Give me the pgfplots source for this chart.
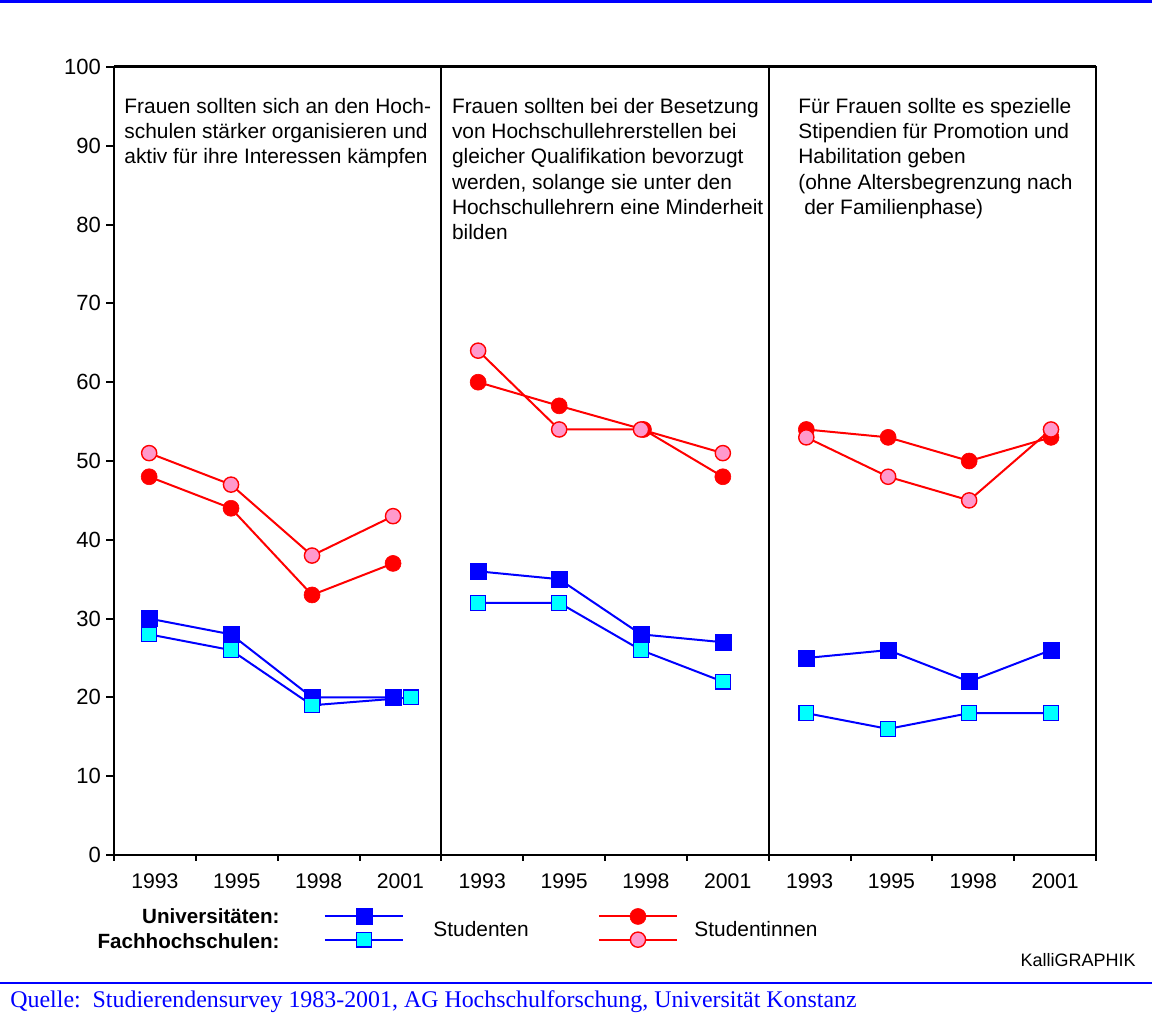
\documentclass[border=0pt]{standalone}
\usepackage{fontspec}
\setmainfont{Liberation Sans}
\newfontfamily\serif{Liberation Serif}
\usepackage{pgfplots}
\pgfplotsset{compat=1.18}

\definecolor{uniblue}{RGB}{0,0,255}
\definecolor{fhcyan}{RGB}{0,255,255}
\definecolor{unired}{RGB}{255,0,0}
\definecolor{fhpink}{RGB}{255,153,204}

\newcommand{\lab}{\fontsize{10.45}{12.6}\selectfont}

\begin{document}
\begin{tikzpicture}
\useasboundingbox (-57pt,-83pt) rectangle (519pt,427.5pt);
\begin{axis}[
    at={(0pt,0pt)}, anchor=south west,
    scale only axis,
    width=491pt, height=394pt,
    xmin=0, xmax=12, ymin=0, ymax=100,
    clip=false,
    axis line style={line width=1pt},
    tick align=outside,
    tick style={black, line width=1pt},
    ytick={0,10,...,100},
    major tick length=4pt,
    xtick={0.5,1.5,...,11.5},
    xticklabels={1993,1995,1998,2001,1993,1995,1998,2001,1993,1995,1998,2001},
    major x tick style={draw=none},
    minor xtick={0,1,...,12},
    minor tick length=3pt,
    xtick pos=bottom, ytick pos=left,
    /pgf/number format/assume math mode=true,
    yticklabel style={font=\fontsize{11}{13}\selectfont, xshift=1pt},
    xticklabel style={font=\fontsize{10.6}{12}\selectfont, yshift=-1.8pt},
    unbounded coords=jump,
    legend columns=2,
    legend style={draw=none, fill=none, inner sep=0pt, outer sep=0pt,
        at={(0.3951,-0.0925)}, anchor=center,
        row sep=3.8pt,
        nodes={inner sep=0pt, outer sep=0pt},
        /tikz/every odd column/.append style={column sep=0pt},
        /tikz/every even column/.append style={column sep=96pt}},
    legend image code/.code={
        \draw[mark repeat=2, mark phase=2, #1]
            plot coordinates {(-19.5pt,0pt) (0pt,0pt) (19.5pt,0pt)};},
]
% Universitaeten, Studenten
\addplot[uniblue, line width=1pt, mark=square*, mark size=4pt,
    mark options={fill=uniblue, draw=uniblue, line width=0.3pt}, forget plot]
    coordinates {(0.43,30) (1.43,28) (2.42,20) (3.41,20) (4,nan)
                 (4.45,36) (5.44,35) (6.44,28) (7.44,27) (8,nan)
                 (8.46,25) (9.46,26) (10.45,22) (11.45,26)};
% Fachhochschulen, Studenten
\addplot[uniblue, line width=1pt, mark=square*, mark size=3.7pt,
    mark options={fill=fhcyan, draw=uniblue, line width=0.7pt}, forget plot]
    coordinates {(0.43,28) (1.43,26) (2.42,19) (3.63,20) (4,nan)
                 (4.45,32) (5.44,32) (6.44,26) (7.44,22) (8,nan)
                 (8.46,18) (9.46,16) (10.45,18) (11.45,18)};
% Universitaeten, Studentinnen
\addplot[unired, line width=1pt, mark=*, mark size=4pt,
    mark options={fill=unired, draw=unired, line width=0.3pt}, forget plot]
    coordinates {(0.43,48) (1.43,44) (2.42,33) (3.41,37) (4,nan)
                 (4.45,60) (5.44,57) (6.47,54) (7.44,48) (8,nan)
                 (8.46,54) (9.46,53) (10.45,50) (11.45,53)};
% Fachhochschulen, Studentinnen
\addplot[unired, line width=1pt, mark=*, mark size=3.8pt,
    mark options={fill=fhpink, draw=unired, line width=0.7pt}, forget plot]
    coordinates {(0.43,51) (1.43,47) (2.42,38) (3.41,43) (4,nan)
                 (4.45,64) (5.44,54) (6.44,54) (7.44,51) (8,nan)
                 (8.46,53) (9.46,48) (10.45,45) (11.45,54)};

\addlegendimage{uniblue, line width=1pt, mark=square*, mark size=4pt,
    mark options={fill=uniblue, draw=uniblue, line width=0.3pt}}
\addlegendentry{}
\addlegendimage{unired, line width=1pt, mark=*, mark size=4pt,
    mark options={fill=unired, draw=unired, line width=0.3pt}}
\addlegendentry{}
\addlegendimage{uniblue, line width=1pt, mark=square*, mark size=3.7pt,
    mark options={fill=fhcyan, draw=uniblue, line width=0.7pt}}
\addlegendentry{}
\addlegendimage{unired, line width=1pt, mark=*, mark size=3.8pt,
    mark options={fill=fhpink, draw=unired, line width=0.7pt}}
\addlegendentry{}

\draw[black, line width=1pt] (axis cs:4,0) -- (axis cs:4,100);
\draw[black, line width=1pt] (axis cs:8,0) -- (axis cs:8,100);
\draw[black, line width=1.5pt] (axis cs:0,100) -- (axis cs:12,100);
\end{axis}

% panel statements
\node[anchor=north west, align=left, inner sep=0pt, font=\lab] at (5pt,378.5pt)
  {Frauen sollten sich an den Hoch-\\schulen stärker organisieren und\\aktiv für ihre Interessen kämpfen};
\node[anchor=north west, align=left, inner sep=0pt, font=\lab] at (168.8pt,378.5pt)
  {Frauen sollten bei der Besetzung\\von Hochschullehrerstellen bei\\gleicher Qualifikation bevorzugt\\werden, solange sie unter den\\Hochschullehrern eine Minderheit\\bilden};
\node[anchor=north west, align=left, inner sep=0pt, font=\lab] at (342pt,378.5pt)
  {Für Frauen sollte es spezielle\\Stipendien für Promotion und\\Habilitation geben\\(ohne Altersbegrenzung nach\\\hspace{0.28em}der Familienphase)};

% legend labels
\node[anchor=east, inner sep=0pt, font=\fontsize{10.3}{12}\selectfont\bfseries] at (83pt,-30.5pt) {Universitäten:};
\node[anchor=east, inner sep=0pt, font=\fontsize{10.3}{12}\selectfont\bfseries] at (83pt,-43pt) {Fachhochschulen:};
\node[anchor=west, inner sep=0pt, font=\lab] at (159.5pt,-37pt) {Studenten};
\node[anchor=west, inner sep=0pt, font=\lab] at (290pt,-37pt) {Studentinnen};
\node[anchor=east, inner sep=0pt, font=\fontsize{9}{11}\selectfont] at (511pt,-52.5pt) {KalliGRAPHIK};

% frame rules and source line
\draw[uniblue, line width=1.5pt] (-57pt,426.5pt) -- (519pt,426.5pt);
\draw[uniblue, line width=1.2pt] (-57pt,-64pt) -- (519pt,-64pt);
\node[anchor=west, inner sep=0pt, text=uniblue, font=\serif\fontsize{11.95}{13.5}\selectfont] at (-52pt,-73.5pt)
  {Quelle:\ \ Studierendensurvey 1983-2001, AG Hochschulforschung, Universität Konstanz};
\end{tikzpicture}
\end{document}
